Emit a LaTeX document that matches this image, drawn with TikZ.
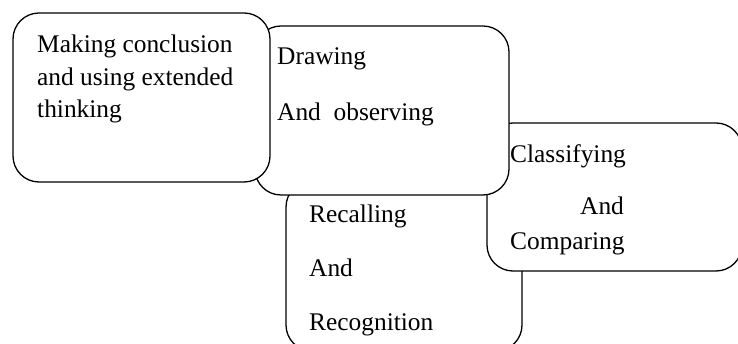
\documentclass[tikz,border=0pt]{standalone}
\usepackage{fontspec}
\setmainfont{Liberation Serif}
\begin{document}
\begin{tikzpicture}[x=1pt,y=-1pt,
  card/.style={draw=black, fill=white, line width=1.3pt, rounded corners=26pt, inner sep=0pt},
  label/.style={anchor=base west, inner sep=0pt, font=\fontsize{25.4}{30}\selectfont}]
\useasboundingbox (0,0) rectangle (738,344);
% back to front
\node[card, minimum width=236pt, minimum height=170pt] (b4) at (404,266) {};
\node[card, minimum width=255pt, minimum height=148pt] (b3) at (614.5,197) {};
\node[card, minimum width=254pt, minimum height=169pt] (b2) at (382,110.5) {};
\node[card, minimum width=257pt, minimum height=169pt] (b1) at (141.5,97.5) {};
% box 1
\node[label] (t1a) at (37,53) {Making conclusion};
\node[label] (t1b) at (37,85.5) {and using extended};
\node[label] (t1c) at (37,118) {thinking};
% box 2
\node[label] (t2a) at (277,65) {Drawing};
\node[label] (t2b) at (277,121) {And\ \ observing};
% box 3
\node[label] (t3a) at (510,163) {Classifying};
\node[label] (t3b) at (580,215) {And};
\node[label] (t3c) at (510,250) {Comparing};
% box 4
\node[label] (t4a) at (309,223) {Recalling};
\node[label] (t4b) at (309,277) {And};
\node[label] (t4c) at (309,330) {Recognition};
\end{tikzpicture}
\end{document}
